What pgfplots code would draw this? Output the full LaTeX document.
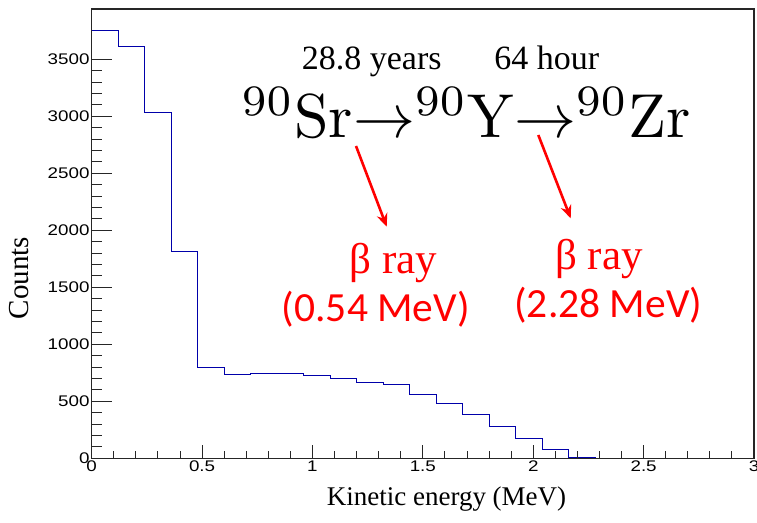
\documentclass[border=0pt]{standalone}
\usepackage{fontspec}
\usepackage{pgfplots}
\pgfplotsset{compat=1.18}
\usetikzlibrary{arrows.meta}
\newfontfamily\serf{Liberation Serif}
\newfontfamily\calib{Carlito}
\newfontfamily\helv{Liberation Sans}
\definecolor{histblue}{RGB}{0,0,170}
\definecolor{betared}{RGB}{255,0,0}
\begin{document}
\begin{tikzpicture}
\path[use as bounding box] (-91.7pt,-63.7pt) rectangle (665.3pt,458.3pt);
\begin{axis}[
  scale only axis, width=662.3pt, height=449.3pt,
  at={(0pt,0pt)}, anchor=south west,
  xmin=0, xmax=3, ymin=0, ymax=3941,
  axis line style={line width=1.1pt, black!85},
  tick pos=left, tick align=inside,
  xtick=\empty,
  ytick={0,500,...,3500},
  minor y tick num=4,
  major tick length=20pt, minor tick length=10pt,
  every tick/.style={black!85, line width=0.9pt},
  /pgf/number format/assume math mode=true,
  yticklabel style={font=\helv\fontsize{15.4}{16}\selectfont, inner sep=2pt},
  yticklabel={\scalebox{1.22}[1]{\pgfmathprintnumber[1000 sep={}]{\tick}}},
]
\addplot[const plot, histblue, line width=1pt] coordinates {
(0,3751) (0.12,3611) (0.24,3035) (0.36,1812) (0.48,795) (0.60,737)
(0.72,746) (0.84,742) (0.96,728) (1.08,699) (1.20,667) (1.32,649)
(1.44,563) (1.56,482) (1.68,386) (1.80,281) (1.92,172) (2.04,79)
(2.16,11) (2.28,0) (2.40,0) (3.00,0)};
\end{axis}
\begin{axis}[
  scale only axis, width=662.3pt, height=449.3pt,
  at={(0pt,0pt)}, anchor=south west,
  xmin=0, xmax=3, ymin=0, ymax=3941,
  hide y axis,
  axis line style={line width=1.1pt, black!85},
  tick pos=left, tick align=inside,
  xtick={0,0.5,...,3},
  minor x tick num=4,
  major tick length=13pt, minor tick length=7pt,
  every tick/.style={black!85, line width=0.9pt},
  /pgf/number format/assume math mode=true,
  xticklabel style={font=\helv\fontsize{15.4}{16}\selectfont, inner sep=2pt},
  xticklabel={\scalebox{1.22}[1]{\pgfmathprintnumber{\tick}}},
]
\end{axis}
% axis titles
\node[font=\serf\fontsize{27}{30}\selectfont, anchor=base, inner sep=0] at (354.8pt,-46.7pt) {Kinetic energy (MeV)};
\node[font=\serf\fontsize{29}{30}\selectfont, anchor=base, rotate=90, inner sep=0] at (-63.4pt,180.3pt) {Counts};
% decay chain
\node[font=\serf\fontsize{34}{36}\selectfont, anchor=base, inner sep=0] at (280pt,388.3pt) {28.8 years};
\node[font=\serf\fontsize{34}{36}\selectfont, anchor=base, inner sep=0] at (455pt,388.3pt) {64 hour};
\node[anchor=base west, inner sep=0] at (150pt,320.3pt) {\scalebox{6.2}{${}^{90}\mathrm{Sr}{\rightarrow}{}^{90}\mathrm{Y}{\rightarrow}{}^{90}\mathrm{Zr}$}};
\draw[betared, line width=2.6pt, -{Stealth[length=13pt,width=11pt]}] (264.3pt,312.3pt) -- (295pt,231.6pt);
\draw[betared, line width=2.6pt, -{Stealth[length=13pt,width=11pt]}] (446.6pt,323.3pt) -- (479pt,240pt);
\node[betared, font=\serf\fontsize{43}{46}\selectfont, anchor=base, inner sep=0] at (301.6pt,185pt) {β ray};
\node[betared, font=\calib\fontsize{41.5}{44}\selectfont, anchor=base, inner sep=0] at (284.1pt,136.6pt) {(0.54 MeV)};
\node[betared, font=\serf\fontsize{43}{46}\selectfont, anchor=base, inner sep=0] at (507.3pt,189pt) {β ray};
\node[betared, font=\calib\fontsize{41.5}{44}\selectfont, anchor=base, inner sep=0] at (516.6pt,141pt) {(2.28 MeV)};
\end{tikzpicture}
\end{document}
